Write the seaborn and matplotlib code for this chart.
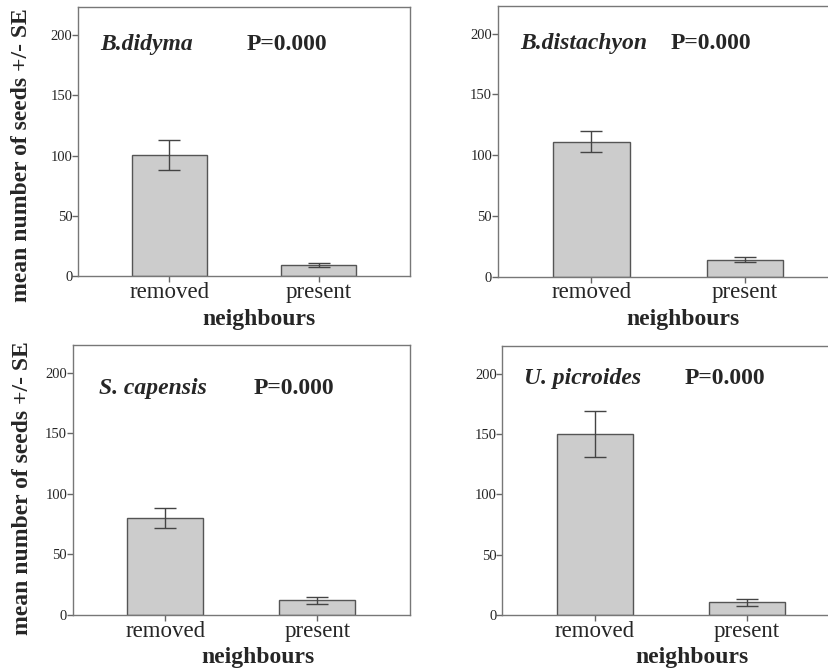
import numpy as np
import pandas as pd
import matplotlib
matplotlib.use("Agg")
import matplotlib.pyplot as plt
import seaborn as sns

# data (mean and SE of seeds per plant)
groups = ["removed", "present"]
species = ["B.didyma", "B.distachyon", "S. capensis", "U. picroides"]
p_values = ["P=0.000", "P=0.000", "P=0.000", "P=0.000"]
means_didyma = [100.5, 9.5]
se_didyma = [12.5, 1.9]
means_distachyon = [111.0, 14.0]
se_distachyon = [8.6, 2.0]
means_capensis = [80.0, 12.0]
se_capensis = [8.0, 3.1]
means_picroides = [150.0, 10.5]
se_picroides = [19.3, 2.7]

yticks = [0, 50, 100, 150, 200]

sns.set_style("ticks")
plt.rcParams["font.family"] = ["Liberation Serif", "DejaVu Serif"]

W, H = 829, 672
fig = plt.figure(figsize=(W / 100, H / 100), dpi=100)

# panel boxes in pixels: left, top, width, height
boxes = [(78, 7, 332, 269.5), (497.7, 5.7, 341, 271),
         (72.7, 345, 337.3, 270), (502.3, 346, 337, 269)]
label_pos = [(0.066, 0.86, 0.509), (0.065, 0.861, 0.506),
             (0.079, 0.84, 0.535), (0.064, 0.88, 0.542)]
xlab_x = [259, 683, 258, 692]

all_means = [means_didyma, means_distachyon, means_capensis, means_picroides]
all_se = [se_didyma, se_distachyon, se_capensis, se_picroides]

edge = "#555555"
for i in range(4):
    l, t, w, h = boxes[i]
    ax = fig.add_axes([l / W, 1 - (t + h) / H, w / W, h / H])
    df = pd.DataFrame({"neighbours": groups, "seeds": all_means[i]})
    sns.barplot(data=df, x="neighbours", y="seeds", ax=ax, color="#cccccc",
                saturation=1, width=0.5, errorbar=None,
                edgecolor=edge, linewidth=1)
    ax.errorbar(np.arange(len(groups)), all_means[i], yerr=all_se[i],
                fmt="none", ecolor="#444444", elinewidth=1, capsize=8,
                capthick=1)
    ax.set_xlim(-0.61, 1.61)
    ax.set_ylim(0, 223)
    ax.set_yticks(yticks)
    ax.set_yticklabels([str(v) for v in yticks], fontsize=10.5)
    ax.tick_params(axis="y", direction="out", length=4, width=1,
                   color="#666666", pad=0)
    ax.tick_params(axis="x", direction="out", length=4, width=1,
                   color="#666666", labelsize=16.5, pad=0)
    for s in ax.spines.values():
        s.set_color("#777777")
        s.set_linewidth(1)
    ax.set_xlabel("")
    ax.set_ylabel("")

    tx, ty, px = label_pos[i]
    ax.text(tx, ty, species[i], transform=ax.transAxes, fontsize=17,
            fontweight="bold", fontstyle="italic", va="center", ha="left")
    ax.text(px, ty, p_values[i], transform=ax.transAxes, fontsize=17,
            fontweight="bold", va="center", ha="left")

    # x label placed below the tick labels
    fig.text(xlab_x[i] / W, 1 - (t + h + 43) / H, "neighbours",
             fontsize=17, fontweight="bold", ha="center", va="center")

# shared y labels for the left panels
fig.text(22 / W, 1 - 155 / H, "mean number of seeds +/- SE", rotation=90,
         fontsize=17, fontweight="bold", ha="center", va="center")
fig.text(23 / W, 1 - 488 / H, "mean number of seeds +/- SE", rotation=90,
         fontsize=17, fontweight="bold", ha="center", va="center")

fig.savefig("out.png", dpi=100)
